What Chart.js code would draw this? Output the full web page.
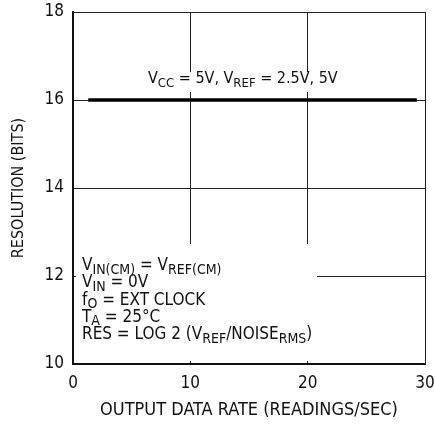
<!DOCTYPE html>
<html>
<head>
<meta charset="utf-8">
<script src="https://cdn.jsdelivr.net/npm/chart.js@4"></script>
<style>
  html, body { margin: 0; padding: 0; background: #fff; }
  #wrap { width: 435px; height: 439px; }
</style>
</head>
<body>
<div id="wrap"><canvas id="c" width="435" height="439"></canvas></div>
<script>
// data
var rateSec = [1.3, 29.3];
var resolutionBits = [16, 16];
var xTicks = [0, 10, 20, 30];
var yTicks = [10, 12, 14, 16, 18];

var FONT = '"Liberation Sans Narrow", "DejaVu Sans Condensed", sans-serif';

// text lines: each piece is [text, subscript?]
var topNote = [['V', 0], ['CC', 1], [' = 5V, V', 0], ['REF', 1], [' = 2.5V, 5V', 0]];
var condNotes = [
  [['V', 0], ['IN(CM)', 1], [' = V', 0], ['REF(CM)', 1]],
  [['V', 0], ['IN', 1], [' = 0V', 0]],
  [['f', 0], ['O', 1], [' = EXT CLOCK', 0]],
  [['T', 0], ['A', 1], [' = 25\u00B0C', 0]],
  [['RES = LOG 2 (V', 0], ['REF', 1], ['/NOISE', 0], ['RMS', 1], [')', 0]]
];

function drawRich(ctx, parts, x, y, size) {
  var cx = x;
  parts.forEach(function (p) {
    var sub = p[1];
    ctx.font = (sub ? Math.round(size * 0.8) : size) + 'px ' + FONT;
    ctx.fillText(p[0], cx, sub ? y + 3.5 : y);
    cx += ctx.measureText(p[0]).width;
  });
}

var notesPlugin = {
  id: 'notes',
  beforeDatasetsDraw: function (chart) {
    var ctx = chart.ctx;
    var ca = chart.chartArea;
    ctx.save();
    ctx.fillStyle = '#fff';
    // boxes hiding the grid behind the notes
    ctx.fillRect(145, 72, 196, 20);
    ctx.fillRect(ca.left + 3, 244, 317 - ca.left - 3, ca.bottom - 3 - 244);
    ctx.fillStyle = '#111';
    ctx.textBaseline = 'alphabetic';
    drawRich(ctx, topNote, 148, 83, 16);
    condNotes.forEach(function (line, i) {
      drawRich(ctx, line, 82, 270 + i * 17.3, 17);
    });
    ctx.restore();
  }
};

function noOverhang(s) {
  s.paddingTop = 0; s.paddingBottom = 0; s.paddingLeft = 0; s.paddingRight = 0;
}

new Chart(document.getElementById('c'), {
  type: 'line',
  data: {
    datasets: [{
      data: rateSec.map(function (x, i) { return { x: x, y: resolutionBits[i] }; }),
      borderColor: '#000',
      borderWidth: 3.3,
      pointRadius: 0,
      fill: false
    }]
  },
  options: {
    responsive: false,
    animation: false,
    layout: { padding: { top: 12, right: 10, left: 0, bottom: 0 } },
    plugins: { legend: { display: false }, tooltip: { enabled: false } },
    scales: {
      x: {
        type: 'linear', min: 0, max: 30,
        afterBuildTicks: function (s) { s.ticks = xTicks.map(function (v) { return { value: v }; }); },
        afterFit: function (s) { s.height = 75; noOverhang(s); },
        grid: { color: '#222', lineWidth: 1, drawTicks: false },
        border: { color: '#111', width: 2 },
        ticks: { color: '#111', padding: 9, maxRotation: 0, font: { family: FONT, size: 17 } },
        title: { display: true, text: 'OUTPUT DATA RATE (READINGS/SEC)', color: '#111', padding: { bottom: 18 }, font: { family: FONT, size: 18 } }
      },
      y: {
        type: 'linear', min: 10, max: 18,
        afterBuildTicks: function (s) { s.ticks = yTicks.map(function (v) { return { value: v }; }); },
        afterFit: function (s) { s.width = 73; noOverhang(s); },
        grid: { color: '#222', lineWidth: 1, drawTicks: false },
        border: { color: '#111', width: 2 },
        ticks: { color: '#111', padding: 9, font: { family: FONT, size: 17 } },
        title: { display: true, text: 'RESOLUTION (BITS)', color: '#111', padding: { top: 9 }, font: { family: FONT, size: 16 } }
      }
    }
  },
  plugins: [notesPlugin]
});
</script>
</body>
</html>
